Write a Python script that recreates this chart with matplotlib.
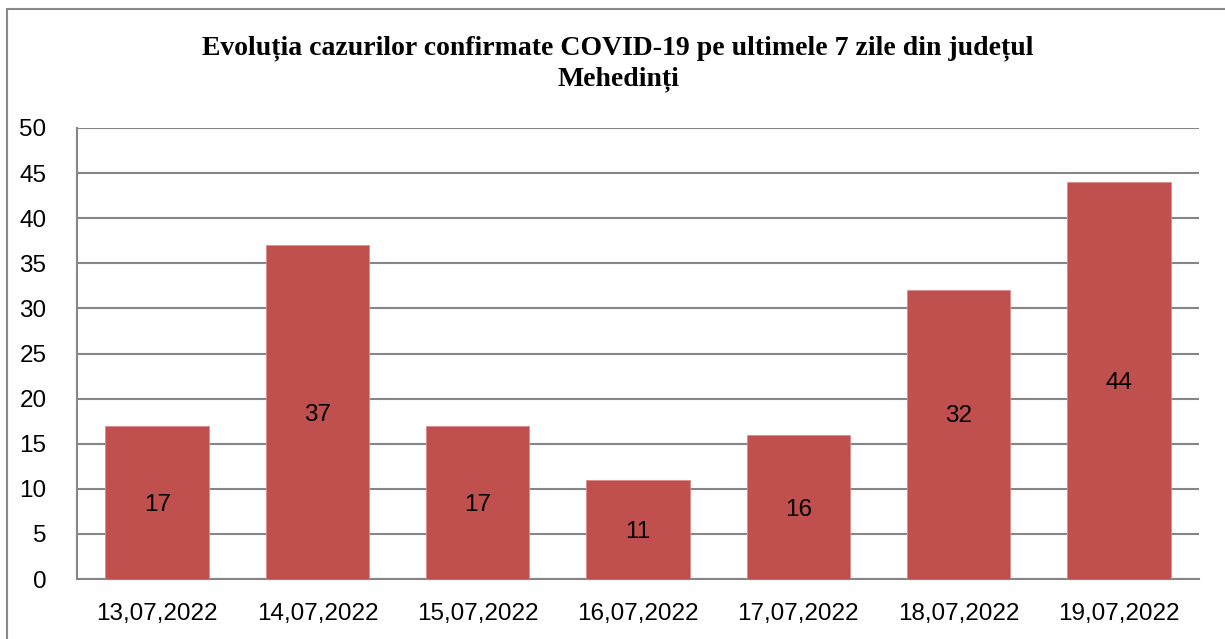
"""
Evolutia cazurilor COVID-19 - Mehedinti, ultimele 7 zile
bar chart with values written inside the bars
"""

import matplotlib
matplotlib.use('Agg')
import matplotlib.pyplot as plt
from matplotlib.patches import Rectangle

# data
zile = ['13,07,2022', '14,07,2022', '15,07,2022', '16,07,2022',
        '17,07,2022', '18,07,2022', '19,07,2022']
cazuri = [17, 37, 17, 11, 16, 32, 44]
y_ticks = [0, 5, 10, 15, 20, 25, 30, 35, 40, 45, 50]

titlu = 'Evoluția cazurilor confirmate COVID-19 pe ultimele 7 zile din județul\nMehedinți'

W, H = 1225, 639
bar_color = '#C0504D'
grid_color = '#868686'

fig = plt.figure(figsize=(W / 100, H / 100), dpi=100)

# outer frame of the chart (cut off on the right and bottom in the original)
fig.patches.append(Rectangle((7 / W, -0.1), 1.2, 1 - 9 / H + 0.1,
                             transform=fig.transFigure, fill=False,
                             edgecolor='#888888', linewidth=1.5))

ax = fig.add_axes([77 / W, 1 - 579 / H, 1122 / W, 451 / H])

x = range(len(zile))
bars = ax.bar(x, cazuri, width=0.645, color=bar_color, edgecolor='#D88C8A',
              linewidth=0.6, zorder=3)

# the label of the 18.07 bar sits a bit higher than the middle in the original
lbl_shift = {5: 2.4}
for i, (b, v) in enumerate(zip(bars, cazuri)):
    ax.text(b.get_x() + b.get_width() / 2, v / 2 - 0.3 + lbl_shift.get(i, 0), str(v),
            ha='center', va='center', fontsize=17.5, family='Liberation Sans',
            color='black', zorder=4)

ax.set_xlim(-0.5, len(zile) - 0.5)
ax.set_ylim(0, 50)
ax.set_yticks(y_ticks)
ax.set_xticks(list(x))
ax.set_xticklabels(zile)
ax.tick_params(axis='both', length=0, labelsize=17.5)
ax.tick_params(axis='y', pad=22)
ax.tick_params(axis='x', pad=17)
for lbl in ax.get_xticklabels() + ax.get_yticklabels():
    lbl.set_family('Liberation Sans')

ax.yaxis.grid(True, color=grid_color, linewidth=1.5, zorder=0)
ax.set_axisbelow(True)
ax.spines['top'].set_visible(False)
ax.spines['right'].set_visible(False)
ax.spines['left'].set_color(grid_color)
ax.spines['bottom'].set_color(grid_color)
ax.spines['left'].set_linewidth(1.5)
ax.spines['bottom'].set_linewidth(1.5)

fig.text(618 / W, 1 - 35 / H, titlu, ha='center', va='top', fontsize=20,
         fontweight='bold', family='Liberation Serif', linespacing=1.32)

plt.savefig('out.png', dpi=100)
